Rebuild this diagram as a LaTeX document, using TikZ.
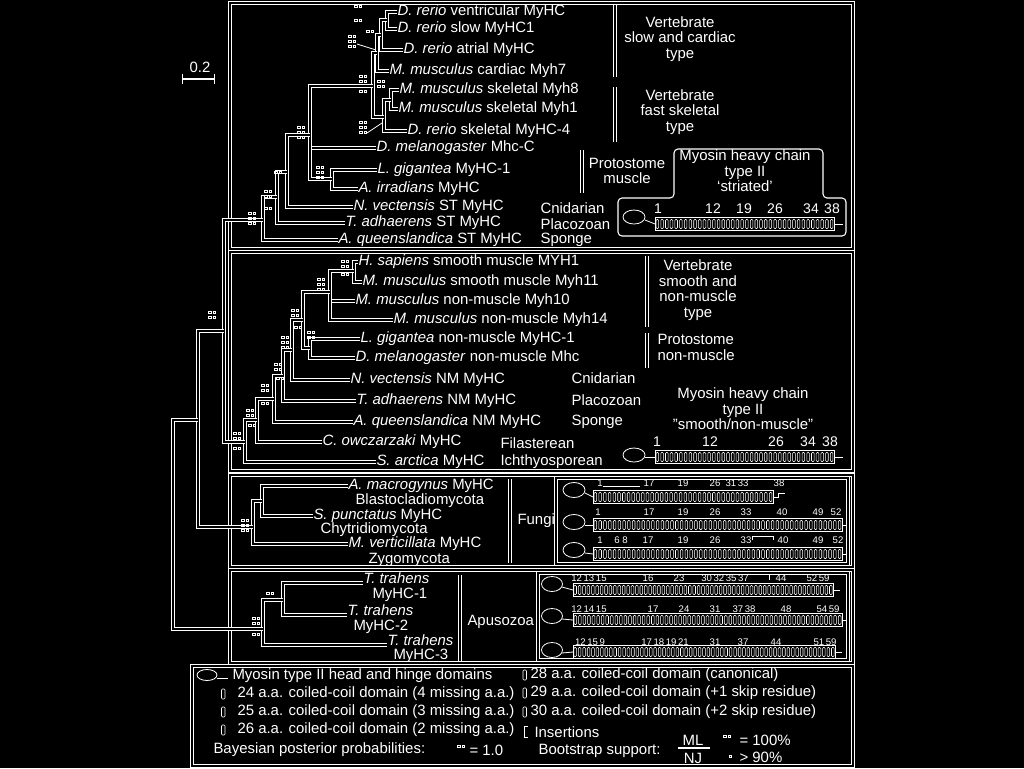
\documentclass[tikz,border=0pt]{standalone}
\usepackage{fontspec}
\setmainfont{Liberation Sans}

% barra de espiras: x inicial, x final, y central, numero de espiras
\newcommand{\coilbar}[4]{%
  \draw[fio] (#1,#3-6.5) rectangle (#2,#3+6.5);
  \foreach \k in {1,...,#4}{%
    \draw[coil] ({#1+(#2-#1)*(\k-0.5)/#4-1.3},#3-4.5) rectangle ++(2.6,9);
  }%
}
% marcas de suporte: x, y, numero de linhas
\newcommand{\supp}[3]{%
  \foreach \r in {1,...,#3}{%
    \draw[mk] (#1-3.5,#2+5*\r-5) rectangle ++(2.5,2.5);
    \draw[mk] (#1+1,#2+5*\r-5) rectangle ++(2.5,2.5);
  }%
}

\begin{document}
\begin{tikzpicture}[x=0.75pt, y=-0.75pt,
    ln/.style={draw=white, line width=3pt, postaction={draw=black, line width=1.5pt}},
    fio/.style={draw=white, line width=0.6pt},
    mk/.style={draw=white, line width=0.35pt},
    coil/.style={draw=white, line width=0.4pt, rounded corners=0.7pt},
    leaf/.style={anchor=west, inner sep=0.2pt, text=white, font=\fontsize{11.2}{12}\selectfont},
    txt/.style={inner sep=0.5pt, text=white, align=center, font=\fontsize{11.2}{11.6}\selectfont},
    num/.style={inner sep=0pt, text=white, font=\fontsize{10.5}{11}\selectfont},
    sm/.style={inner sep=0pt, text=white, font=\fontsize{7.2}{8}\selectfont}]

  % Fundo e limites
  \useasboundingbox (0,0) rectangle (1024,768);
  \fill[black] (0,0) rectangle (1024,768);

  % Caixas principais
  \draw[ln] (230,2.5) rectangle (853,249);
  \draw[ln] (230,252) rectangle (853,471);
  \draw[ln] (230,475) rectangle (853,567);
  \draw[ln] (230,570) rectangle (853,663);
  \draw[ln] (192,666) rectangle (853,765.5);

  % Barra de escala
  \node[txt] (escala) at (200,67) {0.2};
  \draw[fio, line width=1pt, |-|] (182,79) -- (215,79);

  % Folhas do grupo estriado
  \node[leaf] (drvent) at (397,12) {\textit{D. rerio} ventricular MyHC};
  \node[leaf] (drslow) at (397,29) {\textit{D. rerio} slow MyHC1};
  \node[leaf] (dratr) at (403,50) {\textit{D. rerio} atrial MyHC};
  \node[leaf] (mmcard) at (389,71) {\textit{M. musculus} cardiac Myh7};
  \node[leaf] (mmsk8) at (399,90) {\textit{M. musculus} skeletal Myh8};
  \node[leaf] (mmsk1) at (398,109) {\textit{M. musculus} skeletal Myh1};
  \node[leaf] (drsk) at (407,131) {\textit{D. rerio} skeletal MyHC-4};
  \node[leaf] (dmmhc) at (376,148) {\textit{D. melanogaster} Mhc-C};
  \node[leaf] (lgmus) at (377,170) {\textit{L. gigantea} MyHC-1};
  \node[leaf] (aimus) at (358,189) {\textit{A. irradians} MyHC};
  \node[leaf] (nvst) at (353,207) {\textit{N. vectensis} ST MyHC};
  \node[leaf] (tast) at (345,223) {\textit{T. adhaerens} ST MyHC};
  \node[leaf] (aqst) at (338,240) {\textit{A. queenslandica} ST MyHC};

  % Nos internos do grupo estriado
  \coordinate (a1) at (387,20);
  \coordinate (a2) at (381,35);
  \coordinate (a3) at (377,53);
  \coordinate (a4) at (391,100);
  \coordinate (a5) at (384,117);
  \coordinate (a6) at (373,86);
  \coordinate (a7) at (332,179);
  \coordinate (a8) at (310,135);
  \coordinate (a9) at (287,172);
  \coordinate (a10) at (277,197);
  \coordinate (a11) at (263,220);
  \draw[ln] (a1) |- (drvent.west);
  \draw[ln] (a1) |- (drslow.west);
  \draw[ln] (a2) |- (a1);
  \draw[ln] (a2) |- (dratr.west);
  \draw[ln] (a3) |- (a2);
  \draw[ln] (a3) |- (mmcard.west);
  \draw[ln] (a4) |- (mmsk8.west);
  \draw[ln] (a4) |- (mmsk1.west);
  \draw[ln] (a5) |- (a4);
  \draw[ln] (a5) |- (drsk.west);
  \draw[ln] (a6) |- (a3);
  \draw[ln] (a6) |- (a5);
  \draw[ln] (a7) |- (lgmus.west);
  \draw[ln] (a7) |- (aimus.west);
  \draw[ln] (a8) |- (a6);
  \draw[ln] (a8) |- (dmmhc.west);
  \draw[ln] (a8) |- (a7);
  \draw[ln] (a9) |- (a8);
  \draw[ln] (a9) |- (nvst.west);
  \draw[ln] (a10) |- (a9);
  \draw[ln] (a10) |- (tast.west);
  \draw[ln] (a11) |- (a10);
  \draw[ln] (a11) |- (aqst.west);

  % Rotulos de grupo (estriado)
  \draw[ln] (615,5) -- (615,77);
  \draw[ln] (615,87) -- (615,142);
  \draw[ln] (582,150) -- (582,193);
  \node[txt] (vslow) at (680,39) {Vertebrate\\slow and cardiac\\type};
  \node[txt] (vfast) at (680,112) {Vertebrate\\fast skeletal\\type};
  \node[txt] (pmus) at (627,171) {Protostome\\muscle};
  \node[leaf] (cnA) at (540,208) {Cnidarian};
  \node[leaf] (plA) at (540,224) {Placozoan};
  \node[leaf] (spA) at (540,240) {Sponge};

  % Dominio estriado
  \draw[fio, line width=0.8pt, rounded corners=3pt] (618,198) -- (618,236) -- (846,236)
    -- (846,198) -- (823,198) -- (823,149) -- (674,149) -- (674,198) -- cycle;
  \node[txt] (tabA) at (745,171) {Myosin heavy chain\\type II\\`striated'};
  \draw[fio] (634,217) ellipse [x radius=11, y radius=7];
  \draw[fio] (645,220) -- (655,224);
  \coilbar{655}{834}{224}{38}
  \draw[fio] (834,224) -- (843,224);
  \foreach \xx/\lab in {658/1, 713/12, 744/19, 775/26, 811/34, 832/38}
    \node[num] at (\xx,209) {\lab};

  % Folhas do grupo liso / nao muscular
  \node[leaf] (hsm) at (358,262) {\textit{H. sapiens} smooth muscle MYH1};
  \node[leaf] (mms) at (362,282) {\textit{M. musculus} smooth muscle Myh11};
  \node[leaf] (mmn10) at (355,301) {\textit{M. musculus} non-muscle Myh10};
  \node[leaf] (mmn14) at (393,320) {\textit{M. musculus} non-muscle Myh14};
  \node[leaf] (lgn) at (360,339) {\textit{L. gigantea} non-muscle MyHC-1};
  \node[leaf] (dmn) at (355,358) {\textit{D. melanogaster} non-muscle Mhc};
  \node[leaf] (nvn) at (350,380) {\textit{N. vectensis} NM MyHC};
  \node[leaf] (tan) at (356,401) {\textit{T. adhaerens} NM MyHC};
  \node[leaf] (aqn) at (353,422) {\textit{A. queenslandica} NM MyHC};
  \node[leaf] (cow) at (322,442) {\textit{C. owczarzaki} MyHC};
  \node[leaf] (sar) at (376,462) {\textit{S. arctica} MyHC};

  % Nos internos do grupo liso
  \coordinate (b1) at (354,271);
  \coordinate (b2) at (330,292);
  \coordinate (b3) at (310,348);
  \coordinate (b4) at (303,320);
  \coordinate (b5) at (292,350);
  \coordinate (b6) at (283,376);
  \coordinate (b7) at (274,399);
  \coordinate (b8) at (257,420);
  \coordinate (b9) at (245,442);
  \draw[ln] (b1) |- (hsm.west);
  \draw[ln] (b1) |- (mms.west);
  \draw[ln] (b2) |- (b1);
  \draw[ln] (b2) |- (mmn10.west);
  \draw[ln] (b2) |- (mmn14.west);
  \draw[ln] (b3) |- (lgn.west);
  \draw[ln] (b3) |- (dmn.west);
  \draw[ln] (b4) |- (b2);
  \draw[ln] (b4) |- (b3);
  \draw[ln] (b5) |- (b4);
  \draw[ln] (b5) |- (nvn.west);
  \draw[ln] (b6) |- (b5);
  \draw[ln] (b6) |- (tan.west);
  \draw[ln] (b7) |- (b6);
  \draw[ln] (b7) |- (aqn.west);
  \draw[ln] (b8) |- (b7);
  \draw[ln] (b8) |- (cow.west);
  \draw[ln] (b9) |- (b8);
  \draw[ln] (b9) |- (sar.west);

  % Rotulos de grupo (liso)
  \draw[ln] (647,256) -- (647,327);
  \draw[ln] (647,333) -- (647,368);
  \node[txt] (vsmooth) at (698,290) {Vertebrate\\smooth and\\non-muscle\\type};
  \node[leaf, align=left] (pnm) at (657,347) {Protostome\\non-muscle};
  \node[leaf] (cnB) at (571,378) {Cnidarian};
  \node[leaf] (plB) at (571,400) {Placozoan};
  \node[leaf] (spB) at (571,422) {Sponge};
  \node[leaf] (fil) at (500,443) {Filasterean};
  \node[leaf] (ich) at (500,462) {Ichthyosporean};

  % Dominio liso / nao muscular
  \node[txt] (tabB) at (743,409) {Myosin heavy chain\\type II\\"smooth/non-muscle"};
  \draw[fio] (634,455) ellipse [x radius=11, y radius=7];
  \draw[fio] (645,457) -- (655,457);
  \coilbar{655}{834}{457}{38}
  \draw[fio] (834,457) -- (843,457);
  \foreach \xx/\lab in {657/1, 710/12, 776/26, 808/34, 830/38}
    \node[num] at (\xx,442) {\lab};

  % Fungos
  \node[leaf] (amg) at (348,486) {\textit{A. macrogynus} MyHC};
  \node[leaf] (blas) at (355,501) {Blastocladiomycota};
  \node[leaf] (spu) at (313,516) {\textit{S. punctatus} MyHC};
  \node[leaf] (chy) at (320,530) {Chytridiomycota};
  \node[leaf] (mve) at (348,544) {\textit{M. verticillata} MyHC};
  \node[leaf] (zyg) at (368,559.5) {Zygomycota};
  \coordinate (c1) at (262,501);
  \coordinate (c2) at (253,527);
  \draw[ln] (c1) |- (amg.west);
  \draw[ln] (c1) |- (spu.west);
  \draw[ln] (c2) |- (c1);
  \draw[ln] (c2) |- (mve.west);
  \draw[ln] (510,479) -- (510,563);
  \node[leaf] (fungi) at (517,521) {Fungi};

  % Dominios dos fungos
  \draw[ln] (556,478) rectangle (848,564);
  \foreach \ye/\yb in {490/497, 522/525, 550/554} {
    \draw[fio] (574,\ye) ellipse [x radius=11, y radius=7.5];
    \draw[fio] (585,\ye+3) -- (593,\yb);
  }
  \coilbar{593}{773}{497}{38}
  \draw[fio] (773,497) -- (778,497) -- (778,493) -- (785,493);
  \coilbar{593}{842}{525}{52}
  \draw[fio] (842,525) -- (846,525);
  \coilbar{593}{842}{554}{52}
  \draw[fio] (842,554) -- (846,554);
  \draw[fio] (603,486) -- (640,486);
  \draw[fio] (752,540) -- (752,536) -- (773,536) -- (773,540);
  \foreach \xx/\lab in {600/1, 649/17, 683/19, 715/26, 737/31\,33, 779/38}
    \node[sm] at (\xx,483) {\lab};
  \foreach \xx/\lab in {598/1, 649/17, 683/19, 715/26, 746/33, 782/40, 818/49, 836/52}
    \node[sm] at (\xx,512) {\lab};
  \foreach \xx/\lab in {600/1, 617/6, 625/8, 648/17, 683/19, 715/26, 746/33, 783/40, 818/49, 838/52}
    \node[sm] at (\xx,540) {\lab};

  % Apusozoa
  \node[leaf, anchor=base west] (tt1) at (363,583) {\textit{T. trahens}};
  \node[leaf] (tt1b) at (372,595) {MyHC-1};
  \node[leaf, anchor=base west] (tt2) at (347,615) {\textit{T. trahens}};
  \node[leaf] (tt2b) at (353,627) {MyHC-2};
  \node[leaf, anchor=base west] (tt3) at (387,645) {\textit{T. trahens}};
  \node[leaf] (tt3b) at (393,656) {MyHC-3};
  \coordinate (d1) at (283,600);
  \coordinate (d2) at (263,629);
  \draw[ln] (d1) |- (tt1.base west);
  \draw[ln] (d1) |- (tt2.base west);
  \draw[ln] (d2) |- (d1);
  \draw[ln] (d2) |- (tt3.base west);
  \draw[ln] (460,575) -- (460,661);
  \node[leaf] (apu) at (467,622) {Apusozoa};

  % Dominios de Apusozoa
  \draw[ln] (538,573) rectangle (848,660);
  \foreach \ye/\yb in {584/590, 616/620, 650/652} {
    \draw[fio] (552,\ye) ellipse [x radius=10.5, y radius=7.5];
    \draw[fio] (562,\ye+3) -- (573,\yb);
  }
  \coilbar{573}{833}{590}{59}
  \draw[fio] (833,590) -- (840,590);
  \coilbar{573}{842}{620}{59}
  \draw[fio] (842,620) -- (846,620);
  \coilbar{573}{835}{652}{59}
  \draw[fio] (835,652) -- (842,652);
  \draw[fio] (605,574) -- (638,574);
  \draw[fio] (769,580) -- (769,574) -- (776,574);
  \foreach \xx/\lab in {589/12\,13\,15, 648/16, 679/23, 725/30\,32\,35\,37, 781/44, 818/52\,59}
    \node[sm] at (\xx,578) {\lab};
  \foreach \xx/\lab in {589/12\,14\,15, 653/17, 684/24, 715/31, 744/37\,38, 786/48, 828/54\,59}
    \node[sm] at (\xx,609) {\lab};
  \foreach \xx/\lab in {590/12\,15\,9, 665/17\,18\,19\,21, 715/31, 743/37, 776/44, 825/51\,59}
    \node[sm] at (\xx,642) {\lab};

  % Nos profundos
  \coordinate (r1) at (224,331);
  \coordinate (r2) at (198,420);
  \coordinate (r0) at (173,520);
  \draw[ln] (r1) |- (a11);
  \draw[ln] (r1) |- (b9);
  \draw[ln] (r2) |- (r1);
  \draw[ln] (r2) |- (c2);
  \draw[ln] (r0) |- (r2);
  \draw[ln] (r0) |- (d2);

  % Marcas de suporte nos nos
  \supp{358}{5}{1} \supp{358}{19}{1} \supp{370}{30}{1} \supp{352}{35}{3}
  \supp{363}{75}{2} \supp{363}{90}{1} \supp{381}{80}{2} \supp{363}{121}{3}
  \supp{301}{126}{3} \supp{320}{166}{3} \supp{278}{171}{1} \supp{268}{190}{2}
  \supp{268}{207}{1} \supp{252}{212}{3}
  \supp{345}{260}{2} \supp{345}{273}{1} \supp{321}{278}{3} \supp{295}{309}{2}
  \supp{298}{326}{1} \supp{311}{331}{2} \supp{285}{336}{3} \supp{278}{363}{2}
  \supp{280}{377}{1} \supp{265}{384}{2} \supp{265}{402}{1} \supp{250}{409}{2}
  \supp{252}{424}{1} \supp{237}{432}{2} \supp{237}{447}{1} \supp{212}{311}{2}
  \supp{245}{519}{3} \supp{270}{592}{1} \supp{256}{617}{2} \supp{256}{633}{1}
  \draw[fio] (367,133) -- (382,123);
  \draw[fio] (357,44) -- (376,50);

  % Legenda
  \draw[fio] (207,675) ellipse [x radius=10, y radius=5.5];
  \draw[fio] (217,678) -- (228,678);
  \node[leaf] (lhead) at (232,676) {Myosin type II head and hinge domains};
  \foreach \yy/\lab in {694/24 a.a. coiled-coil domain (4 missing a.a.),
                        712/25 a.a. coiled-coil domain (3 missing a.a.),
                        730/26 a.a. coiled-coil domain (2 missing a.a.)} {
    \draw[coil] (221.5,\yy-5) rectangle ++(3.5,10);
    \node[leaf] at (237,\yy) {\lab};
  }
  \foreach \yy/\lab in {675/28 a.a. coiled-coil domain (canonical),
                        693/29 a.a. coiled-coil domain (+1 skip residue),
                        712/30 a.a. coiled-coil domain (+2 skip residue)} {
    \draw[coil] (523,\yy-5) rectangle ++(3.5,10);
    \node[leaf] at (530,\yy) {\lab};
  }
  \draw[fio] (528,726) -- (524,726) -- (524,737) -- (528,737);
  \node[leaf] (lins) at (534,732) {Insertions};
  \node[leaf] (lbay) at (213,750) {Bayesian posterior probabilities:};
  \supp{461}{745}{1}
  \node[leaf] (lbay1) at (469,750) {= 1.0};
  \node[leaf] (lboot) at (538,751) {Bootstrap support:};
  \node[txt] (lml) at (693,740) {ML};
  \node[txt] (lnj) at (693,758) {NJ};
  \draw[fio, line width=0.8pt] (678,748) -- (710,748);
  \supp{727}{735}{1}
  \node[leaf] (lb100) at (739,740) {= 100\%};
  \draw[mk] (729,755) rectangle ++(2.5,2.5);
  \node[leaf] (lb90) at (739,757) {> 90\%};
\end{tikzpicture}
\end{document}
